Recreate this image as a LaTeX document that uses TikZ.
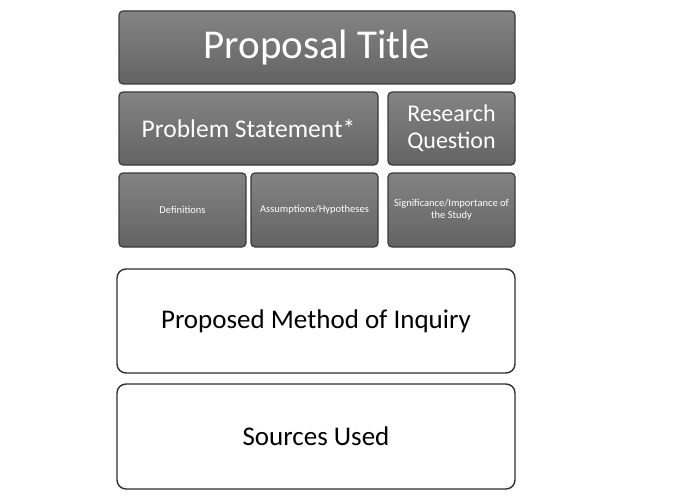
\documentclass[tikz,border=0pt]{standalone}
\usepackage{fontspec}
\setmainfont{Carlito}
\definecolor{boxgray}{HTML}{6E6E6E}
\definecolor{boxedge}{HTML}{3A3A3A}
\definecolor{outline}{HTML}{2E2E2E}
\tikzset{
  graybox/.style={draw=boxedge, line width=1.2pt, rounded corners=4pt,
    top color=boxgray!85!white, bottom color=boxgray!90!black,
    text=white, align=center, inner sep=0pt},
  whitebox/.style={draw=outline, line width=1.4pt, rounded corners=9pt,
    fill=white, text=black, align=center, inner sep=0pt}
}
\begin{document}
\begin{tikzpicture}[x=1pt,y=-1pt]
  \useasboundingbox (0,0) rectangle (680,500);
  % upper block: title, problem, question and the three detail boxes
  \node[graybox, minimum width=396pt, minimum height=73pt, font=\fontsize{41}{45}\selectfont]
    (title) at (317,47.5) {Proposal Title};
  \node[graybox, minimum width=259pt, minimum height=73pt, font=\fontsize{25.5}{29}\selectfont]
    (problem) at (248.5,128.5) {Problem Statement*};
  \node[graybox, minimum width=127pt, minimum height=73pt, font=\fontsize{24}{27}\selectfont]
    (question) at (451.5,128.5) {Research\\Question};
  \node[graybox, minimum width=127pt, minimum height=74pt, font=\fontsize{10.5}{12}\selectfont]
    (defs) at (182.5,210) {Definitions};
  \node[graybox, minimum width=127pt, minimum height=74pt, font=\fontsize{10.5}{12}\selectfont]
    (assume) at (314.5,210) {Assumptions/Hypotheses};
  \node[graybox, minimum width=127pt, minimum height=74pt, font=\fontsize{10.5}{12}\selectfont]
    (signif) at (451.5,210) {Significance/Importance of\\the Study};
  % lower block: method and sources
  \node[whitebox, minimum width=398pt, minimum height=104pt, font=\fontsize{27}{31}\selectfont]
    (method) at (316,321) {Proposed Method of Inquiry};
  \node[whitebox, minimum width=398pt, minimum height=105pt, font=\fontsize{27}{31}\selectfont]
    (sources) at (316,436.5) {Sources Used};
\end{tikzpicture}
\end{document}
